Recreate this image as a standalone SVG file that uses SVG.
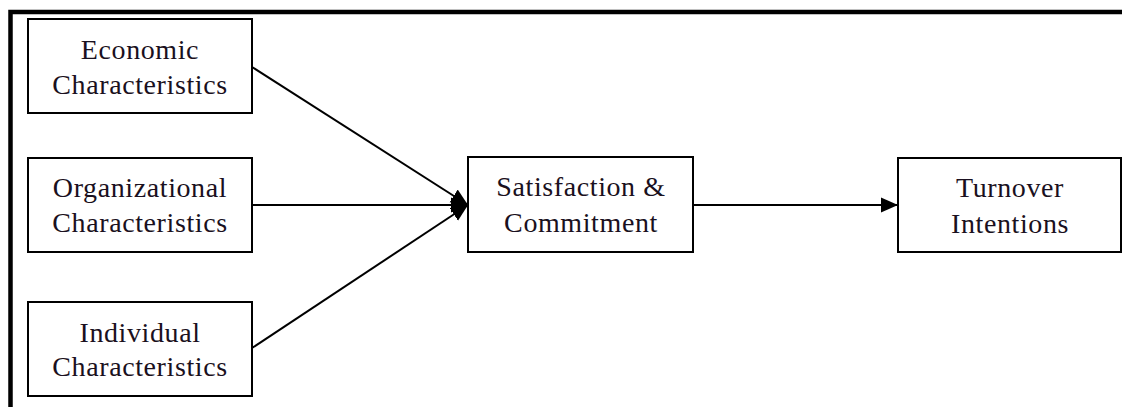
<svg xmlns="http://www.w3.org/2000/svg" width="1122" height="407" viewBox="0 0 1122 407">
<defs>
<marker id="arr" markerWidth="17" markerHeight="16" refX="17" refY="8" orient="auto" markerUnits="userSpaceOnUse">
<path d="M0,0.5 L17,8 L0,15.5 Z" fill="#000"/>
</marker>
<style>
.box{fill:#fff;stroke:#000;stroke-width:2}
.t{font-family:"Liberation Serif","Times New Roman",serif;font-size:28px;fill:#1a1020;text-anchor:middle;letter-spacing:0.6px}
.c{stroke:#000;stroke-width:2;fill:none}
</style>
</defs>
<rect width="1122" height="407" fill="#fff"/>
<path d="M10.5,407 V12 H1122" fill="none" stroke="#000" stroke-width="4.5"/>
<g id="connectors">
<line class="c" x1="252" y1="67" x2="468" y2="205" marker-end="url(#arr)"/>
<line class="c" x1="252" y1="205" x2="468" y2="205" marker-end="url(#arr)"/>
<line class="c" x1="252" y1="348" x2="468" y2="205" marker-end="url(#arr)"/>
<line class="c" x1="693" y1="205" x2="898" y2="205" marker-end="url(#arr)"/>
</g>
<g id="economic">
<rect class="box" x="28" y="19" width="224" height="94"/>
<text class="t" x="140" y="59">Economic</text>
<text class="t" x="140" y="94">Characteristics</text>
</g>
<g id="organizational">
<rect class="box" x="28" y="158" width="224" height="94"/>
<text class="t" x="140" y="197">Organizational</text>
<text class="t" x="140" y="232">Characteristics</text>
</g>
<g id="individual">
<rect class="box" x="28" y="302" width="224" height="94"/>
<text class="t" x="140" y="342">Individual</text>
<text class="t" x="140" y="376">Characteristics</text>
</g>
<g id="satisfaction">
<rect class="box" x="468" y="157" width="225" height="95"/>
<text class="t" x="581" y="196">Satisfaction &amp;</text>
<text class="t" x="581" y="232">Commitment</text>
</g>
<g id="turnover">
<rect class="box" x="898" y="158" width="223" height="94"/>
<text class="t" x="1010" y="197">Turnover</text>
<text class="t" x="1010" y="233">Intentions</text>
</g>
</svg>
